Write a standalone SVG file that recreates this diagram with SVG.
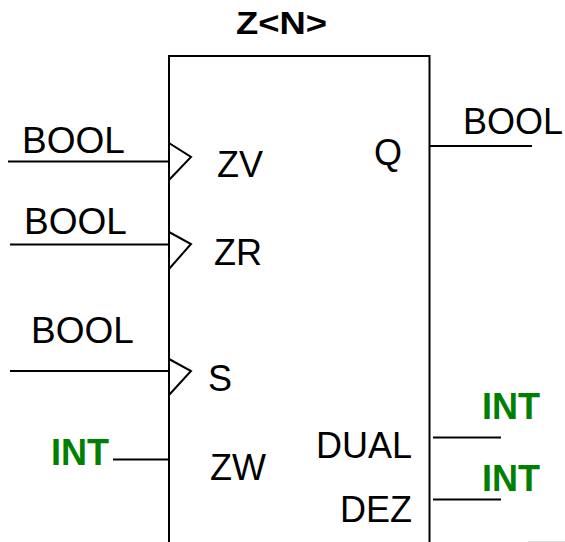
<svg xmlns="http://www.w3.org/2000/svg" width="565" height="542" viewBox="0 0 565 542">
<style>
.t{font-family:"Liberation Sans",Arial,sans-serif;font-size:36px;fill:#000}
.b{font-size:37px}
.g{font-family:"Liberation Sans",Arial,sans-serif;font-size:36px;font-weight:bold;fill:#008000}
.ln{stroke:#000;stroke-width:2;fill:none}
</style>
<rect width="565" height="542" fill="#fff"/>
<g id="block">
<text x="236" y="34" font-family="'Liberation Sans',Arial,sans-serif" font-size="31" font-weight="bold" textLength="91" lengthAdjust="spacingAndGlyphs">Z&lt;N&gt;</text>
<path class="ln" d="M169,542 V56 H429.5 V542"/>
<text class="t" x="217" y="177">ZV</text>
<text class="t" x="214" y="265">ZR</text>
<text class="t" x="208" y="391">S</text>
<text class="t" x="210" y="480">ZW</text>
<text class="t" x="374" y="165">Q</text>
<text class="t" x="412" y="458" text-anchor="end">DUAL</text>
<text class="t" x="412" y="522" text-anchor="end">DEZ</text>
<polyline class="ln" points="169,143 191,157 169,180"/>
<polyline class="ln" points="169,232 191,244 169,269"/>
<polyline class="ln" points="169,359 191,371 169,395"/>
</g>
<g id="connectors">
<line class="ln" x1="8" y1="161.5" x2="169" y2="161.5"/>
<line class="ln" x1="10" y1="244.5" x2="169" y2="244.5"/>
<line class="ln" x1="10" y1="371" x2="169" y2="371"/>
<line class="ln" x1="113" y1="459.5" x2="169" y2="459.5"/>
<line class="ln" x1="430" y1="146" x2="532" y2="146"/>
<line class="ln" x1="433" y1="437.5" x2="501" y2="437.5"/>
<line class="ln" x1="433" y1="499.5" x2="501" y2="499.5"/>
<line x1="528" y1="541.5" x2="565" y2="541.5" stroke="#e0e0e0" stroke-width="1"/>
</g>
<g id="labels">
<text class="t b" x="22" y="153">BOOL</text>
<text class="t b" x="24" y="234">BOOL</text>
<text class="t b" x="31" y="343">BOOL</text>
<text class="t" x="463" y="134">BOOL</text>
<text class="g" x="51" y="465">INT</text>
<text class="g" x="482" y="419">INT</text>
<text class="g" x="482" y="491">INT</text>
</g>
</svg>
